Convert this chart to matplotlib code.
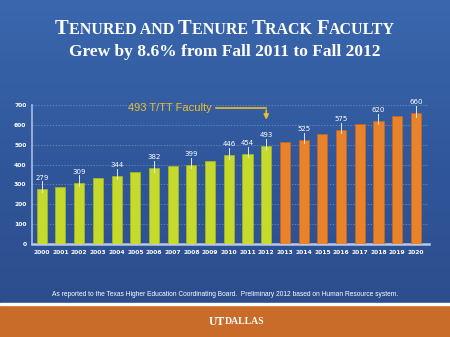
import numpy as np
import matplotlib
matplotlib.use("Agg")
import matplotlib.pyplot as plt
from matplotlib.patches import Rectangle

# data
years = ["2000", "2001", "2002", "2003", "2004", "2005", "2006", "2007", "2008", "2009", "2010",
         "2011", "2012", "2013", "2014", "2015", "2016", "2017", "2018", "2019", "2020"]
faculty = [279, 285, 309, 330, 344, 361, 382, 395, 399, 420, 446,
           454, 493, 513, 525, 553, 575, 604, 620, 644, 660]
labeled = ["2000", "2002", "2004", "2006", "2008", "2010", "2011", "2012",
           "2014", "2016", "2018", "2020"]
actual_last = "2012"  # green up to here, orange projections after
yticks = [0, 100, 200, 300, 400, 500, 600, 700]

title_parts = [("T", 1), ("ENURED AND ", 0), ("T", 1), ("ENURE ", 0), ("T", 1), ("RACK ", 0),
               ("F", 1), ("ACULTY", 0)]
subtitle = "Grew by 8.6% from Fall 2011 to Fall 2012"
note_text = "493 T/TT Faculty"
footnote = ("As reported to the Texas Higher Education Coordinating Board.  "
            "Preliminary 2012 based on Human Resource system.")

W, H = 450, 337
fig = plt.figure(figsize=(W / 100, H / 100), dpi=100)

# background gradient
bg = fig.add_axes([0, 0, 1, 1], zorder=-10)
grad = np.linspace(0, 1, 256).reshape(-1, 1)
cmap = matplotlib.colors.LinearSegmentedColormap.from_list("bg", ["#3a67ae", "#30569a", "#2b4c8a"])
bg.imshow(grad, aspect="auto", cmap=cmap, extent=[0, 1, 0, 1])
bg.set_xlim(0, 1)
bg.set_ylim(0, 1)
bg.axis("off")
bg.add_patch(Rectangle((0, 0), 1, 32 / H, color="#c96b29", zorder=2))
bg.add_patch(Rectangle((0, 32 / H), 1, 2 / H, color="white", zorder=2))

serif = "Liberation Serif"
sans = "Liberation Sans"
narrow = "DejaVu Sans"

# small-caps style title, built piece by piece
renderer = fig.canvas.get_renderer()
pieces = []
total = 0
for s, big in title_parts:
    t = fig.text(0, 1 - 34 / H, s, fontsize=14.8 if big else 11.5, fontweight="bold",
                 family=serif, color="white", va="baseline")
    w = t.get_window_extent(renderer).width
    pieces.append((t, w))
    total += w
x = (W - total) / 2
for t, w in pieces:
    t.set_x(x / W)
    x += w

fig.text(0.5, 1 - 56 / H, subtitle, fontsize=12.5, fontweight="bold", family=serif,
         color="white", ha="center", va="baseline")

# chart
ax = fig.add_axes([32 / W, (H - 244) / H, (429 - 32) / W, (244 - 105) / H])
ax.patch.set_alpha(0)
xs = np.arange(len(years))
cut = years.index(actual_last)
colors = ["#c6da2e" if i <= cut else "#e8832b" for i in range(len(years))]
edges = ["#9fb81e" if i <= cut else "#c9661c" for i in range(len(years))]
ax.bar(xs, faculty, width=0.54, color=colors, edgecolor=edges, linewidth=0.6, zorder=3)

for i, (yr, v) in enumerate(zip(years, faculty)):
    if yr in labeled:
        ax.plot([i, i], [v - 18, v + 36], color="#dfe8f5", lw=0.7, zorder=4)
        ax.text(i, v + 40, str(v), ha="center", va="bottom", fontsize=5,
                family=narrow, color="white", zorder=5)

ax.set_xlim(-0.52, 20.7)
ax.set_ylim(0, 700)
ax.set_yticks(yticks)
ax.set_xticks(xs)
ax.set_xticklabels(years)
ax.tick_params(length=0, labelsize=4.3, labelcolor="white", pad=4)
for lab in ax.get_xticklabels() + ax.get_yticklabels():
    lab.set_family(narrow)
    lab.set_fontweight("bold")
ax.grid(axis="y", color="#9fb3d8", lw=0.6, ls=(0, (1.5, 2)), alpha=0.6, zorder=1)
for s in ["top", "right"]:
    ax.spines[s].set_visible(False)
ax.spines["left"].set_color("#a9bde0")
ax.spines["bottom"].set_color("#b8c8e6")
ax.spines["left"].set_linewidth(1.2)
ax.spines["bottom"].set_linewidth(1.8)

# callout for 2012
i12 = years.index(actual_last)
ax.text(4.6, 685, note_text, fontsize=8, family=sans, color="#e9bf2c", va="center", ha="left")
ax.plot([9.3, i12], [685, 685], color="#e9bf2c", lw=1.2, zorder=5)
ax.annotate("", xy=(i12, 612), xytext=(i12, 688),
            arrowprops=dict(arrowstyle="-|>", color="#e9bf2c", lw=1.2, mutation_scale=7))

fig.text(0.5, 1 - 295 / H, footnote, fontsize=4.8, family=sans, color="white",
         ha="center", va="center")

# UT Dallas logo as text
fig.text(0.5, 1 - 322 / H, "UT", fontsize=8.5, fontweight="bold", family=serif,
         color="white", ha="right", va="center")
fig.text(0.5, 1 - 322 / H, "DALLAS", fontsize=7, fontweight="bold", family=serif,
         color="white", ha="left", va="center")

fig.savefig("out.png", dpi=100)
